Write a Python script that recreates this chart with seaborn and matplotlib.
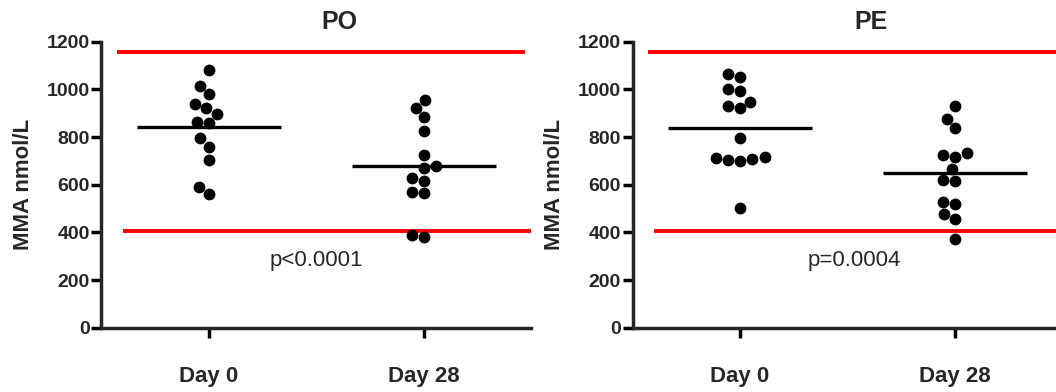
import numpy as np
import pandas as pd
import matplotlib
matplotlib.use("Agg")
import matplotlib.pyplot as plt
import seaborn as sns

days = ["Day 0", "Day 28"]
panels = ["PO", "PE"]
p_texts = ["p<0.0001", "p=0.0004"]

po_day0 = [1081, 1015, 981, 939, 921, 897, 864, 860, 795, 759, 704, 592, 561]
po_day28 = [955, 921, 883, 825, 725, 678, 669, 629, 614, 569, 564, 388, 382]
pe_day0 = [1065, 1053, 1000, 993, 948, 931, 921, 795, 716, 713, 709, 702, 701, 501]
pe_day28 = [930, 877, 839, 732, 726, 717, 665, 621, 617, 527, 518, 476, 457, 371]

ref_low = 407
ref_high = 1157

sns.set_style("ticks")
plt.rcParams['font.family'] = ['Liberation Sans', 'DejaVu Sans']

fig = plt.figure(figsize=(10.56, 3.92), dpi=100)
lefts = [0.0961, 0.5990]
series = [(po_day0, po_day28), (pe_day0, pe_day28)]
text_x = [0.5, 0.53]

for i, (d0, d28) in enumerate(series):
    df = pd.DataFrame({
        "day": [days[0]] * len(d0) + [days[1]] * len(d28),
        "mma": d0 + d28,
    })
    ax = fig.add_axes([lefts[i], 0.164, 0.4072, 0.7296])
    sns.swarmplot(data=df, x="day", y="mma", order=days, color="black",
                  size=8.5, ax=ax, zorder=3)

    # mean lines
    means = df.groupby("day")["mma"].mean().reindex(days)
    pos = np.arange(len(days))
    ax.hlines(means.values, pos - 0.333, pos + 0.333, color="black", lw=2.4, zorder=4)

    # reference range
    ax.hlines(ref_high, -0.43, 1.47, color="red", lw=2.8, clip_on=False)
    ax.hlines(ref_low, -0.40, 1.50, color="red", lw=2.8, clip_on=False)

    ax.text(text_x[i], 282, p_texts[i], ha="center", va="center", fontsize=16)

    ax.set_xlim(-0.5, 1.5)
    ax.set_ylim(0, 1200)
    ax.set_yticks(range(0, 1201, 200))
    ax.set_xlabel("")
    ax.set_ylabel("MMA nmol/L", fontsize=16, fontweight="bold", labelpad=9)
    ax.set_title(panels[i], fontsize=18, fontweight="bold", x=0.554, pad=9)

    sns.despine(ax=ax)
    for s in ["left", "bottom"]:
        ax.spines[s].set_linewidth(2.5)
    ax.tick_params(axis="both", width=2.5, length=7.5, color="black")
    ax.tick_params(axis="y", labelsize=14, pad=1)
    ax.tick_params(axis="x", labelsize=16, pad=20)
    for lab in ax.get_xticklabels() + ax.get_yticklabels():
        lab.set_fontweight("bold")

fig.savefig("out.png", dpi=100)
